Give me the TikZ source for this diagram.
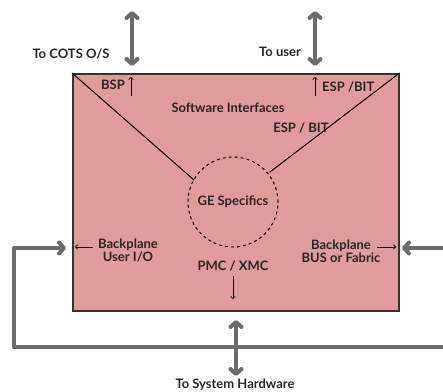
\documentclass[tikz,border=0pt]{standalone}
\usepackage{fontspec}
\setmainfont{Lato}
\usetikzlibrary{arrows.meta}
\definecolor{boxfill}{HTML}{E09C9B}
\definecolor{boxline}{HTML}{333333}
\definecolor{graya}{HTML}{6B6B6B}
\begin{document}
\begin{tikzpicture}[x=1pt,y=-1pt,
  lbl/.style={font=\fontsize{13}{13}\selectfont\bfseries, text=black!85, inner sep=0pt, align=center},
  bigarrow/.style={draw=graya, line width=4pt, {Straight Barb[length=5pt,width=11pt,line cap=round,round]}-{Straight Barb[length=5pt,width=11pt,line cap=round,round]}},
  onearrow/.style={draw=graya, line width=4pt, -{Straight Barb[length=5pt,width=11pt,line cap=round,round]}, line join=round},
  smallarrow/.style={draw=black, line width=0.7pt, -{Straight Barb[length=2.2pt,width=4.5pt]}}]
\useasboundingbox (0,0) rectangle (443,391);
\node[draw=boxline, line width=1.5pt, fill=boxfill, minimum width=326pt, minimum height=237pt, inner sep=0pt, anchor=north west] (box) at (72,73) {};
\node[draw=black, dashed, line width=1pt, circle, minimum size=90pt, inner sep=0pt] (ge) at (233,202) {};
\node[lbl] (getxt) at (233,202) {GE Specifics};
\coordinate (d1) at (194,180);
\coordinate (d2) at (270,172);
\draw[line width=1pt] (box.north west) -- (d1);
\draw[line width=1pt] (box.north east) -- (d2);
% labels
\node[lbl] (sw) at (228,108) {Software Interfaces};
\node[lbl] (bsp) at (113,85) {BSP};
\node[lbl, anchor=west] (esp1) at (322,87) {ESP /BIT};
\node[lbl] (esp2) at (301,128) {ESP / BIT};
\node[lbl] (bpu) at (128,250) {Backplane\\User I/O};
\node[lbl] (bpb) at (341,251) {Backplane\\BUS or Fabric};
\node[lbl] (pmc) at (233,266) {PMC / XMC};
\node[lbl] (cots) at (71,54) {To COTS O/S};
\node[lbl] (user) at (280,52) {To user};
\node[lbl] (hw) at (235,385) {To System Hardware};
% small arrows
\coordinate (sa1a) at (131,96); \coordinate (sa1b) at (131,77);
\draw[smallarrow] (sa1a) -- (sa1b);
\coordinate (sa2a) at (315,96); \coordinate (sa2b) at (315,77);
\draw[smallarrow] (sa2a) -- (sa2b);
\coordinate (sa3a) at (93,247); \coordinate (sa3b) at (75,247);
\draw[smallarrow] (sa3a) -- (sa3b);
\coordinate (sa4a) at (377,247); \coordinate (sa4b) at (396,247);
\draw[smallarrow] (sa4a) -- (sa4b);
\coordinate (sa5a) at (233,276); \coordinate (sa5b) at (233,299);
\draw[smallarrow] (sa5a) -- (sa5b);
% big arrows
\coordinate (t1a) at (132,11); \coordinate (t1b) at (132,66);
\draw[bigarrow] (t1a) -- (t1b);
\coordinate (t2a) at (315,11); \coordinate (t2b) at (315,66);
\draw[bigarrow] (t2a) -- (t2b);
\coordinate (b1a) at (236,320); \coordinate (b1b) at (236,376);
\draw[bigarrow] (b1a) -- (b1b);
% loop
\coordinate (lp1) at (448,347);
\coordinate (lp2) at (14,347);
\coordinate (lp3) at (14,248);
\coordinate (lp4) at (66,248);
\draw[onearrow] (lp1) -- (lp2) -- (lp3) -- (lp4);
\coordinate (rp1) at (448,248);
\coordinate (rp2) at (402,248);
\draw[onearrow] (rp1) -- (rp2);
\end{tikzpicture}
\end{document}
